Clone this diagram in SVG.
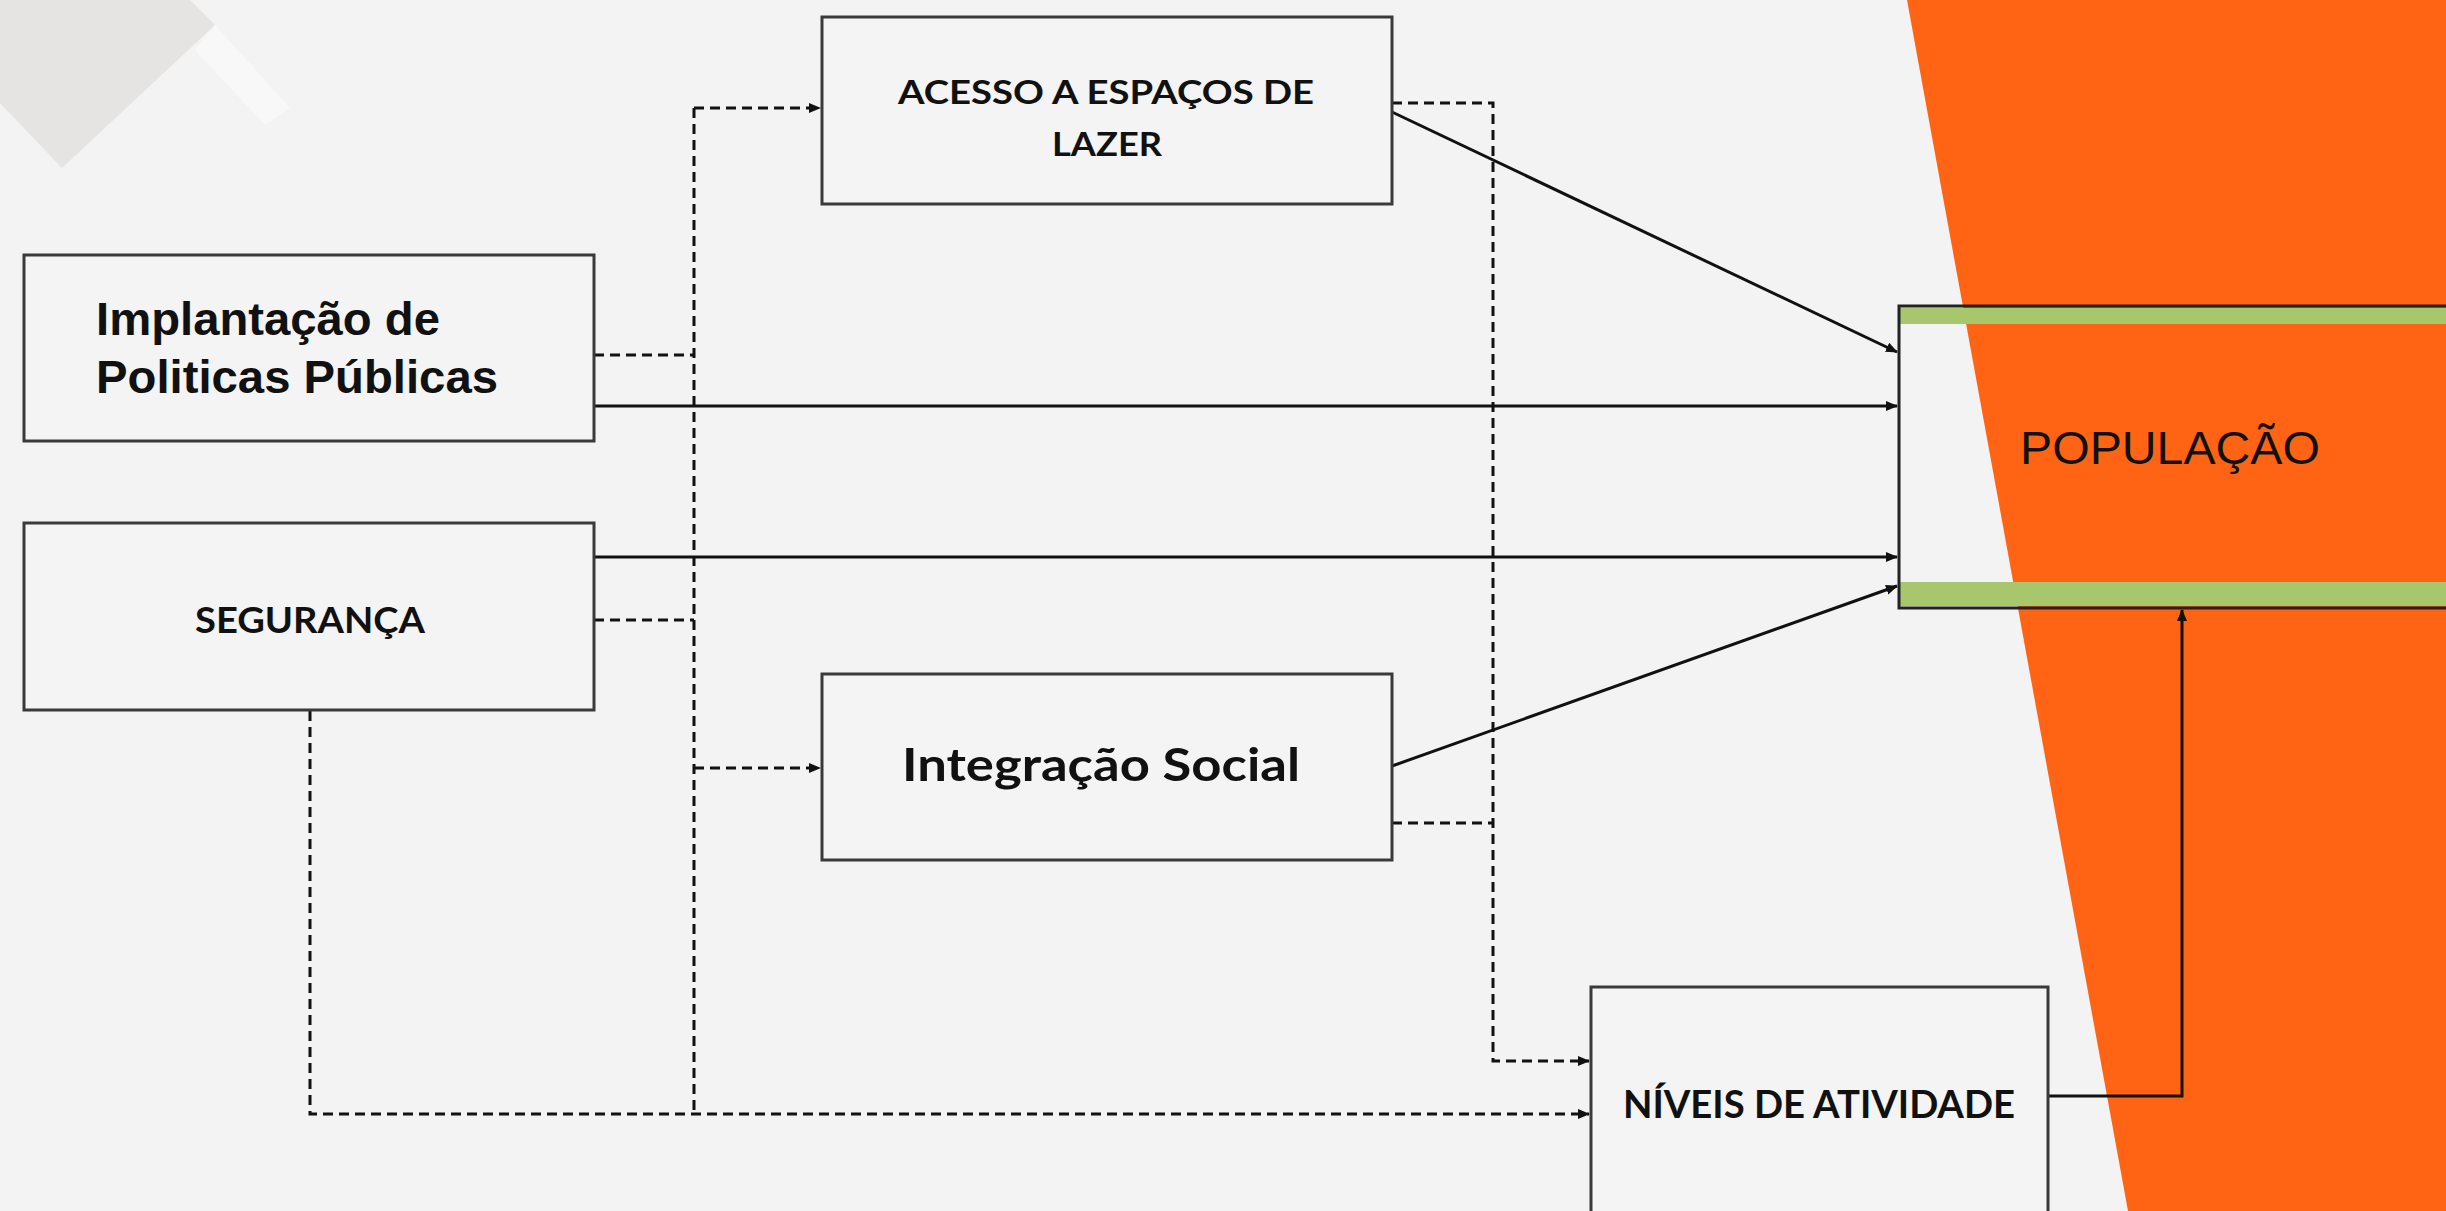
<svg xmlns="http://www.w3.org/2000/svg" width="2446" height="1211" viewBox="0 0 2446 1211">
<defs>
<marker id="arr" markerUnits="userSpaceOnUse" markerWidth="14" markerHeight="14" refX="11" refY="6" orient="auto">
<path d="M0,1 L12,6 L0,11 z" fill="#111"/>
</marker>
<style>
.box{fill:#f4f4f4;stroke:#3a3a3a;stroke-width:3}
.dash{fill:none;stroke:#111;stroke-width:3;stroke-dasharray:10 6}
.solid{fill:none;stroke:#111;stroke-width:3}
.cal{font-family:Lato,"Open Sans",sans-serif;font-weight:bold;fill:#111}
.ari{font-family:"Liberation Sans",Arial,sans-serif;fill:#111}
</style>
</defs>
<rect x="0" y="0" width="2446" height="1211" fill="#f3f3f3"/>
<polygon points="0,0 190,0 215,25 62,168 0,103" fill="#e6e4e2"/>
<polygon points="215,25 195,50 265,125 290,108" fill="#ffffff" opacity="0.45"/>
<polygon points="1907,0 2446,0 2446,1211 2128,1211" fill="#ff6414"/>

<g id="connectors">
<path class="dash" d="M594,355 H694"/>
<path class="dash" d="M594,620 H694"/>
<path class="dash" d="M694,108 V1114"/>
<path class="dash" d="M694,108 H820" marker-end="url(#arr)"/>
<path class="dash" d="M694,768 H820" marker-end="url(#arr)"/>
<path class="dash" d="M310,711 V1114 H1589" marker-end="url(#arr)"/>
<path class="dash" d="M1392,103 H1493 V1061 H1589" marker-end="url(#arr)"/>
<path class="dash" d="M1392,823 H1493"/>
<path class="solid" d="M594,406 H1897" marker-end="url(#arr)"/>
<path class="solid" d="M594,557 H1897" marker-end="url(#arr)"/>
<path class="solid" d="M1392,112 L1897,352" marker-end="url(#arr)"/>
<path class="solid" d="M1392,766 L1897,586" marker-end="url(#arr)"/>
<path class="solid" d="M2048,1096 H2182 V610" marker-end="url(#arr)"/>
</g>

<g id="implantacao">
<rect class="box" x="24" y="255" width="570" height="186"/>
<text class="ari" font-weight="bold" font-size="46" x="96" y="335" textLength="344" lengthAdjust="spacingAndGlyphs">Implantação de</text>
<text class="ari" font-weight="bold" font-size="46" x="96" y="393" textLength="402" lengthAdjust="spacingAndGlyphs">Politicas Públicas</text>
</g>

<g id="seguranca">
<rect class="box" x="24" y="523" width="570" height="187"/>
<text class="cal" font-size="36" x="310" y="633" text-anchor="middle" textLength="230" lengthAdjust="spacingAndGlyphs">SEGURANÇA</text>
</g>

<g id="acesso">
<rect class="box" x="822" y="17" width="570" height="187"/>
<text class="cal" font-size="33" x="1106" y="104" text-anchor="middle" textLength="416" lengthAdjust="spacingAndGlyphs">ACESSO A ESPAÇOS DE</text>
<text class="cal" font-size="33" x="1107" y="156" text-anchor="middle" textLength="110" lengthAdjust="spacingAndGlyphs">LAZER</text>
</g>

<g id="integracao">
<rect class="box" x="822" y="674" width="570" height="186"/>
<text class="cal" font-size="46" x="1101" y="781" text-anchor="middle" textLength="398" lengthAdjust="spacingAndGlyphs">Integração Social</text>
</g>

<g id="niveis">
<rect class="box" x="1591" y="987" width="457" height="230"/>
<text class="cal" font-size="38" x="1819" y="1118" text-anchor="middle" textLength="392" lengthAdjust="spacingAndGlyphs">NÍVEIS DE ATIVIDADE</text>
</g>

<g id="populacao">
<rect x="1900" y="308" width="560" height="16" fill="#a8c66c"/>
<rect x="1900" y="582" width="560" height="24" fill="#a8c66c"/>
<rect x="1899" y="306" width="570" height="302" fill="none" stroke="#222" stroke-width="3"/>
<text class="ari" font-size="47" x="2020" y="464" textLength="300" lengthAdjust="spacingAndGlyphs" fill="#0a0a1a">POPULAÇÃO</text>
</g>
</svg>
